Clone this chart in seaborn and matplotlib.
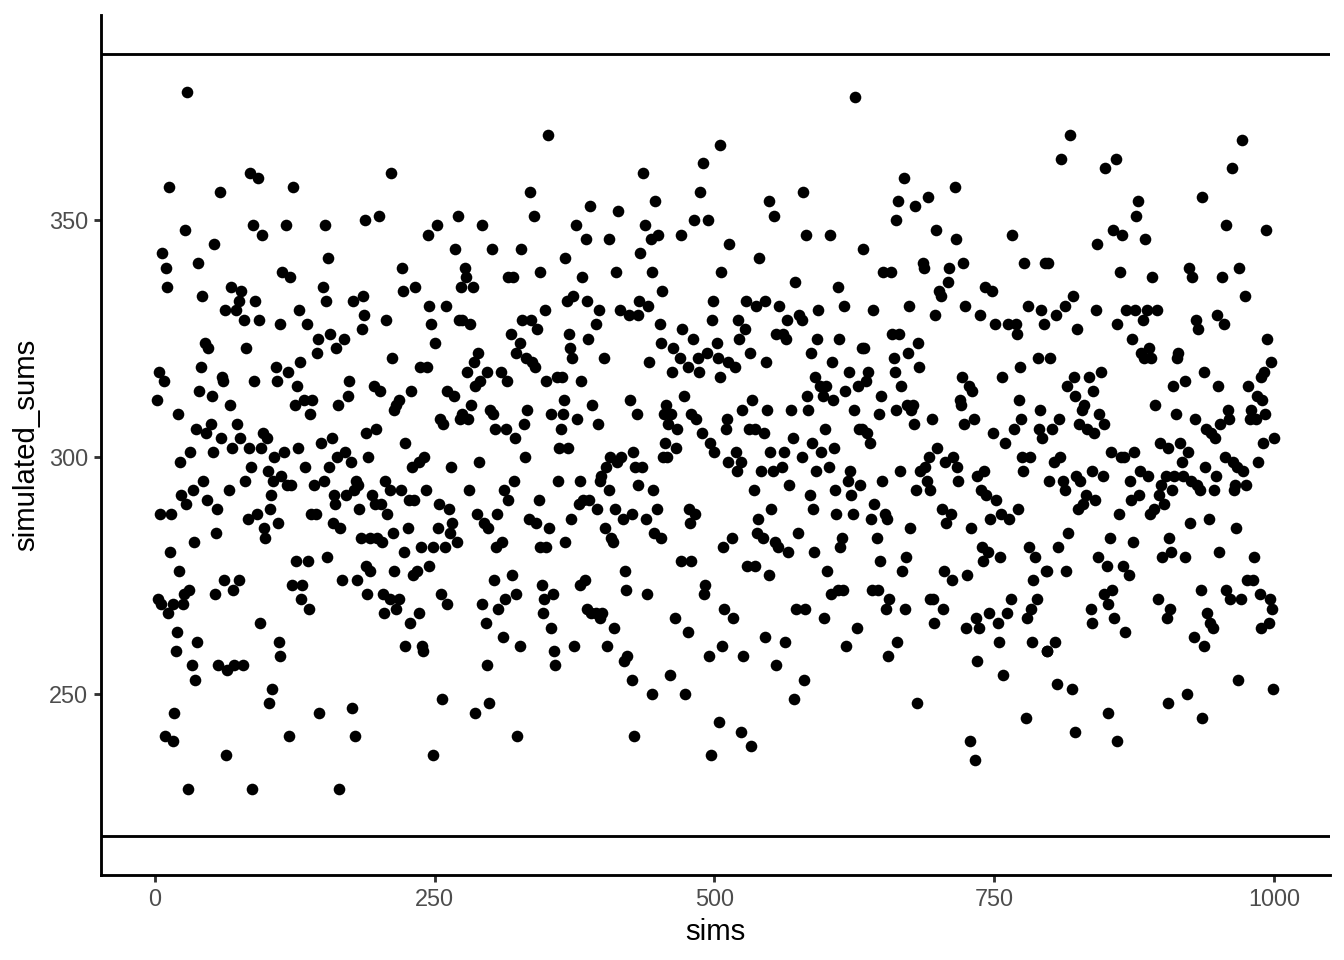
import numpy as np
import pandas as pd
import matplotlib
matplotlib.use("Agg")
import matplotlib.pyplot as plt
import seaborn as sns

# values (sims index, simulated sum)
sims = [
    29, 13, 58, 85, 92, 124, 27, 53, 88, 96,
    117, 152, 188, 7, 10, 11, 39, 155, 114, 121,
    42, 68, 77, 75, 73, 63, 90, 80, 93, 112,
    129, 136, 150, 153, 177, 186, 187, 185, 45, 48,
    82, 41, 60, 61, 89, 108, 119, 109, 130, 146,
    157, 169, 145, 162, 127, 174, 173, 4, 8, 2,
    21, 40, 51, 67, 125, 133, 141, 139, 164, 37,
    46, 50, 59, 74, 69, 76, 84, 97, 100, 95,
    23, 32, 52, 107, 116, 128, 149, 158, 134, 163,
    170, 175, 156, 189, 191, 86, 101, 106, 113, 81,
    43, 34, 24, 28, 47, 56, 66, 104, 118, 122,
    142, 151, 160, 161, 171, 180, 182, 178, 183, 5,
    15, 83, 91, 103, 98, 99, 110, 140, 144, 159,
    166, 55, 35, 184, 14, 22, 126, 137, 154, 123,
    132, 131, 138, 62, 75, 70, 54, 167, 181, 189,
    190, 3, 6, 16, 25, 31, 26, 12, 94, 20,
    19, 38, 71, 111, 112, 33, 36, 57, 65, 79,
    105, 102, 17, 9, 16, 64, 120, 147, 176, 179,
    30, 87, 165,
    351, 211, 335, 339, 389, 200, 244, 252, 271, 292,
    268, 301, 327, 376, 385, 367, 221, 222, 233, 277,
    278, 274, 284, 316, 320, 344, 382, 368, 374, 386,
    207, 245, 260, 247, 272, 275, 282, 328, 336, 342,
    349, 370, 371, 373, 387, 212, 250, 237, 243, 318,
    326, 323, 332, 337, 340, 289, 285, 279, 297, 291,
    286, 309, 315, 350, 359, 364, 381, 196, 201, 229,
    214, 218, 216, 261, 267, 283, 255, 258, 275, 273,
    280, 300, 302, 304, 314, 322, 333, 330, 354, 365,
    366, 363, 377, 391, 198, 224, 230, 236, 241, 265,
    290, 331, 361, 369, 206, 210, 220, 194, 197, 202,
    227, 232, 242, 208, 254, 263, 281, 312, 316, 321,
    288, 294, 298, 306, 343, 334, 341, 352, 360, 380,
    379, 383, 388, 372, 192, 199, 203, 213, 226, 253,
    266, 264, 270, 223, 238, 249, 259, 305, 310, 344,
    350, 367, 192, 214, 231, 234, 245, 204, 210, 218,
    205, 216, 256, 261, 228, 236, 303, 319, 323, 313,
    307, 292, 296, 346, 348, 356, 347, 354, 311, 326,
    380, 384, 386, 390, 224, 239, 240, 297, 357, 358,
    375, 257, 286, 299, 324, 249,
    505, 490, 436, 487, 579, 549, 553, 414, 447, 438,
    443, 450, 434, 482, 494, 470, 513, 582, 540, 406,
    412, 444, 506, 572, 453, 499, 498, 528, 537, 545,
    558, 565, 576, 578, 593, 433, 441, 416, 424, 432,
    397, 394, 451, 471, 481, 502, 521, 527, 522, 555,
    561, 564, 592, 401, 452, 463, 469, 462, 476, 485,
    493, 503, 486, 512, 518, 505, 532, 546, 586, 442,
    590, 594, 583, 425, 431, 457, 455, 461, 459, 467,
    473, 479, 484, 489, 534, 525, 547, 568, 584, 511,
    510, 531, 536, 544, 570, 396, 496, 500, 587, 595,
    578, 550, 562, 456, 466, 454, 458, 427, 429, 435,
    407, 413, 417, 403, 399, 398, 406, 432, 445, 519,
    524, 512, 520, 542, 552, 560, 591, 535, 567, 585,
    395, 411, 418, 426, 439, 449, 477, 483, 478, 551,
    588, 539, 402, 408, 409, 446, 452, 538, 543, 516,
    508, 554, 557, 566, 575, 589, 470, 479, 529, 536,
    549, 420, 421, 440, 492, 491, 394, 398, 400, 410,
    465, 476, 509, 517, 573, 581, 404, 419, 422, 426,
    460, 444, 474, 495, 507, 526, 545, 563, 555, 580,
    571, 428, 504, 524, 533, 497,
    626, 669, 715, 664, 679, 691, 662, 603, 633, 698,
    716, 766, 651, 658, 686, 687, 710, 709, 722, 777,
    795, 610, 701, 702, 742, 748, 616, 642, 674, 697,
    724, 737, 751, 762, 769, 770, 780, 792, 794, 611,
    659, 665, 632, 634, 682, 673, 660, 661, 683, 605,
    620, 637, 600, 597, 606, 617, 628, 635, 667, 649,
    647, 625, 662, 672, 677, 676, 678, 694, 721, 727,
    730, 719, 720, 723, 732, 749, 760, 768, 774, 757,
    773, 772, 789, 791, 790, 793, 599, 607, 629, 632,
    636, 639, 699, 692, 706, 713, 717, 718, 688, 684,
    690, 693, 680, 666, 650, 775, 782, 776, 602, 621,
    619, 630, 608, 622, 735, 741, 738, 743, 752, 609,
    624, 643, 640, 652, 654, 703, 711, 707, 675, 729,
    746, 756, 763, 771, 645, 614, 612, 671, 648, 739,
    744, 740, 755, 781, 786, 601, 668, 705, 712, 726,
    796, 785, 604, 610, 615, 641, 646, 656, 653, 670,
    693, 695, 704, 696, 788, 783, 779, 765, 761, 745,
    753, 736, 734, 725, 598, 627, 618, 655, 663, 735,
    754, 784, 758, 797, 681, 778, 728, 733,
    818, 810, 849, 859, 971, 962, 878, 877, 856, 864,
    885, 842, 936, 957, 993, 798, 862, 891, 924, 927,
    953, 969, 974, 820, 813, 805, 824, 841, 868, 876,
    886, 895, 883, 860, 930, 932, 949, 955, 994, 997,
    988, 991, 873, 881, 888, 890, 884, 914, 913, 800,
    937, 845, 835, 821, 815, 822, 838, 910, 920, 950,
    977, 985, 989, 830, 828, 844, 848, 894, 912, 929,
    959, 952, 960, 979, 978, 984, 992, 808, 802, 826,
    833, 839, 939, 944, 947, 990, 1000, 898, 905, 916,
    854, 863, 866, 875, 923, 918, 803, 809, 956, 963,
    967, 972, 986, 938, 837, 847, 823, 827, 799, 811,
    813, 871, 880, 887, 903, 911, 919, 926, 931, 934,
    948, 946, 909, 899, 897, 902, 965, 964, 975, 832,
    825, 840, 829, 872, 879, 861, 889, 893, 925, 942,
    966, 816, 807, 853, 874, 906, 908, 900, 920, 951,
    982, 797, 814, 843, 851, 865, 870, 848, 855, 852,
    836, 837, 857, 867, 896, 907, 904, 935, 940, 943,
    945, 928, 937, 957, 961, 970, 976, 981, 987, 996,
    998, 995, 988, 804, 797, 806, 819, 852, 822, 860,
    905, 922, 936, 968, 999,
]

simulated_sums = [
    377, 357, 356, 360, 359, 357, 348, 345, 349, 347,
    349, 349, 350, 343, 340, 336, 341, 342, 339, 338,
    334, 336, 335, 333, 331, 331, 333, 329, 329, 328,
    331, 328, 336, 333, 333, 334, 330, 327, 324, 323,
    323, 319, 317, 316, 316, 319, 318, 316, 320, 325,
    326, 325, 322, 323, 315, 316, 313, 318, 316, 312,
    309, 314, 313, 311, 311, 312, 312, 309, 311, 306,
    305, 307, 304, 307, 302, 304, 302, 305, 304, 302,
    299, 301, 301, 300, 301, 302, 303, 304, 298, 300,
    301, 299, 298, 305, 300, 298, 297, 295, 296, 295,
    295, 293, 292, 290, 291, 289, 293, 292, 294, 294,
    294, 295, 292, 290, 292, 295, 294, 293, 289, 288,
    288, 287, 288, 289, 285, 283, 286, 288, 288, 286,
    285, 284, 282, 283, 280, 276, 278, 278, 279, 273,
    273, 270, 268, 274, 274, 272, 271, 274, 274, 277,
    271, 270, 269, 269, 269, 272, 271, 267, 265, 263,
    259, 261, 256, 261, 258, 256, 253, 256, 255, 256,
    251, 248, 246, 241, 240, 237, 241, 246, 247, 241,
    230, 230, 230,
    368, 360, 356, 351, 353, 351, 347, 349, 351, 349,
    344, 344, 344, 349, 346, 342, 340, 335, 336, 340,
    338, 336, 336, 338, 338, 339, 338, 333, 334, 333,
    329, 332, 332, 328, 329, 329, 328, 329, 329, 327,
    331, 326, 323, 321, 325, 321, 324, 319, 319, 326,
    324, 322, 321, 320, 319, 322, 320, 318, 318, 316,
    315, 318, 316, 316, 317, 317, 316, 315, 314, 314,
    310, 312, 311, 314, 313, 311, 308, 307, 309, 308,
    308, 310, 309, 306, 306, 304, 310, 307, 309, 309,
    312, 306, 308, 311, 306, 303, 298, 299, 300, 298,
    299, 300, 302, 302, 295, 293, 293, 292, 290, 290,
    291, 291, 293, 288, 290, 289, 293, 293, 291, 295,
    288, 286, 285, 288, 291, 287, 286, 285, 295, 295,
    290, 291, 291, 287, 283, 283, 282, 284, 285, 285,
    286, 284, 282, 280, 281, 281, 281, 281, 282, 281,
    281, 282, 276, 276, 275, 276, 277, 271, 270, 270,
    267, 268, 271, 269, 265, 267, 274, 275, 271, 270,
    268, 269, 265, 273, 270, 271, 267, 264, 262, 260,
    273, 274, 268, 267, 260, 260, 259, 256, 259, 256,
    260, 249, 246, 248, 241, 237,
    366, 362, 360, 356, 356, 354, 351, 352, 354, 349,
    346, 347, 343, 350, 350, 347, 345, 347, 342, 346,
    339, 339, 339, 337, 335, 333, 329, 333, 332, 333,
    332, 329, 330, 329, 331, 333, 332, 331, 330, 330,
    331, 328, 328, 327, 325, 324, 329, 327, 325, 326,
    326, 325, 325, 321, 324, 323, 321, 318, 319, 321,
    322, 321, 318, 320, 319, 317, 322, 320, 322, 320,
    317, 315, 313, 312, 309, 311, 309, 309, 307, 306,
    313, 309, 308, 305, 312, 310, 310, 310, 310, 308,
    306, 306, 306, 305, 304, 307, 303, 301, 303, 301,
    300, 301, 301, 303, 302, 300, 300, 301, 298, 298,
    300, 299, 300, 298, 296, 295, 293, 294, 293, 301,
    299, 299, 297, 297, 297, 298, 297, 293, 294, 292,
    289, 289, 287, 288, 287, 289, 289, 288, 286, 289,
    289, 287, 285, 283, 282, 284, 283, 284, 283, 283,
    281, 282, 281, 280, 284, 280, 278, 278, 277, 277,
    275, 276, 272, 271, 273, 271, 267, 266, 267, 264,
    266, 263, 268, 266, 268, 268, 260, 257, 258, 253,
    254, 250, 250, 258, 260, 258, 262, 261, 256, 253,
    249, 241, 244, 242, 239, 237,
    376, 359, 357, 354, 353, 355, 350, 347, 344, 348,
    346, 347, 339, 339, 341, 340, 340, 337, 341, 341,
    341, 336, 335, 334, 336, 335, 332, 331, 332, 330,
    332, 330, 328, 328, 328, 326, 332, 331, 328, 325,
    326, 326, 323, 323, 324, 322, 321, 318, 319, 320,
    318, 318, 315, 313, 312, 314, 315, 316, 315, 313,
    309, 310, 310, 311, 311, 310, 307, 308, 317, 315,
    314, 312, 311, 307, 308, 305, 303, 306, 308, 317,
    319, 312, 321, 310, 306, 304, 306, 302, 306, 306,
    305, 303, 302, 300, 299, 300, 298, 295, 298, 297,
    295, 293, 293, 297, 295, 300, 300, 297, 298, 297,
    295, 294, 293, 292, 296, 297, 293, 292, 291, 288,
    288, 290, 287, 288, 287, 289, 288, 286, 285, 285,
    287, 288, 287, 289, 283, 283, 281, 279, 278, 281,
    280, 278, 279, 281, 279, 276, 276, 276, 274, 275,
    276, 274, 271, 272, 272, 272, 272, 270, 268, 268,
    270, 270, 268, 265, 270, 268, 266, 270, 267, 267,
    265, 264, 266, 264, 266, 264, 260, 258, 261, 257,
    261, 261, 254, 259, 248, 245, 240, 236,
    368, 363, 361, 363, 367, 361, 354, 351, 348, 347,
    346, 345, 355, 349, 348, 341, 339, 338, 340, 338,
    338, 340, 334, 334, 332, 330, 327, 331, 331, 331,
    331, 331, 329, 328, 329, 327, 330, 328, 325, 320,
    317, 318, 325, 322, 323, 321, 321, 322, 321, 321,
    318, 318, 317, 317, 315, 313, 314, 315, 316, 315,
    315, 313, 312, 311, 310, 309, 307, 311, 309, 308,
    310, 307, 308, 310, 308, 308, 309, 308, 306, 307,
    306, 305, 306, 305, 304, 303, 304, 303, 302, 303,
    301, 300, 300, 301, 301, 299, 299, 300, 300, 299,
    298, 297, 299, 298, 297, 296, 296, 295, 295, 295,
    293, 295, 297, 296, 296, 296, 296, 295, 294, 293,
    296, 293, 293, 294, 292, 290, 294, 293, 294, 292,
    289, 291, 290, 291, 292, 288, 288, 289, 286, 287,
    285, 284, 281, 283, 282, 283, 280, 279, 279, 280,
    279, 276, 276, 279, 277, 277, 275, 271, 272, 269,
    268, 265, 266, 263, 270, 268, 266, 272, 267, 265,
    264, 262, 260, 272, 270, 270, 274, 274, 271, 270,
    268, 265, 264, 261, 259, 252, 251, 246, 242, 240,
    248, 250, 245, 253, 251,
]

# horizontal reference lines
line_levels = [220.0, 385.1]

x_ticks = [0, 250, 500, 750, 1000]
y_ticks = [250, 300, 350]

df = pd.DataFrame({"sims": sims, "simulated_sums": simulated_sums})

sns.set_style("white")
plt.rcParams['font.family'] = ['Liberation Sans', 'DejaVu Sans']

fig = plt.figure(figsize=(7, 5), dpi=192)
ax = fig.add_axes([101 / 1344, 85 / 960, 1229 / 1344, 860 / 960])

sns.scatterplot(data=df, x="sims", y="simulated_sums", color="black",
                s=19, linewidth=0, ax=ax, legend=False)

for lvl in line_levels:
    ax.axhline(lvl, color="black", linewidth=1.07)

# ggplot style 5% expansion
xr = max(sims) - min(sims)
ax.set_xlim(min(sims) - 0.05 * xr, max(sims) + 0.05 * xr)
lo = min(min(simulated_sums), min(line_levels))
hi = max(max(simulated_sums), max(line_levels))
ax.set_ylim(lo - 0.05 * (hi - lo), hi + 0.05 * (hi - lo))

ax.set_xticks(x_ticks)
ax.set_yticks(y_ticks)
ax.tick_params(axis="both", bottom=True, left=True, length=2.75, width=1.07,
               color="#333333", labelcolor="#4D4D4D", labelsize=8.8, pad=2.2)

for side in ["top", "right"]:
    ax.spines[side].set_visible(False)
for side in ["left", "bottom"]:
    ax.spines[side].set_color("black")
    ax.spines[side].set_linewidth(1.07)

ax.set_xlabel("sims", fontsize=11, color="black", labelpad=2.5)
ax.set_ylabel("simulated_sums", fontsize=11, color="black", labelpad=3)

fig.savefig("out.png", dpi=192)
